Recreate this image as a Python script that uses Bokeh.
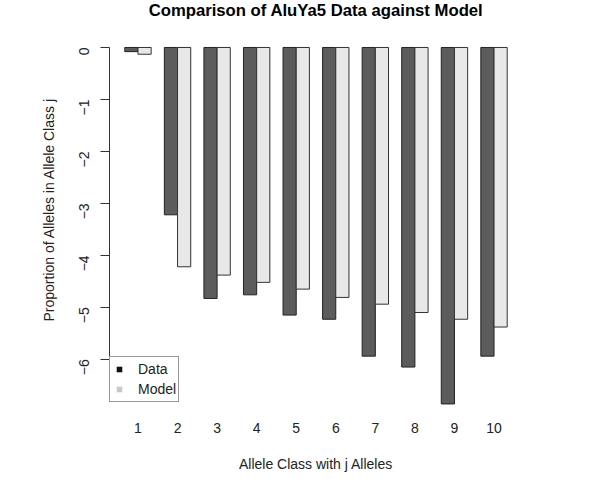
import math
import numpy as np
from bokeh.plotting import figure
from bokeh.models import Range1d, FixedTicker, Legend, LegendItem, ColumnDataSource, Label
from bokeh.embed import file_html
from bokeh.resources import INLINE

# ---- data ----
classes = ["1", "2", "3", "4", "5", "6", "7", "8", "9", "10"]
data_vals = [-0.08, -3.22, -4.83, -4.76, -5.15, -5.23, -5.94, -6.15, -6.86, -5.94]
model_vals = [-0.13, -4.22, -4.38, -4.52, -4.65, -4.81, -4.94, -5.10, -5.23, -5.38]
y_ticks = [-6, -5, -4, -3, -2, -1, 0]
y_tick_labels = ["\u22126", "\u22125", "\u22124", "\u22123", "\u22122", "\u22121", "0"]
series_names = ["Data", "Model"]
title_text = "Comparison of AluYa5 Data against Model"

# R barplot(beside=TRUE) layout: each group = 2 bars of width 1, 1 unit gap before
idx = np.arange(1, len(classes) + 1)
x_data = 3 * idx - 1.5
x_model = 3 * idx - 0.5
x_center = 3 * idx - 1.0

FONT = "Liberation Sans"

# R plot region spans y in [-7.14, 0.346] over 389 px; the (invisible) frame is
# extended 29 px upward so the title can sit inside it.
X0, X1 = -0.16, 31.16
Y0, Y1 = -7.14, 0.346
upp = (Y1 - Y0) / 389.0
Y1_ext = Y1 + 29 * upp

p = figure(width=592, height=478, output_backend="svg", toolbar_location=None,
           x_range=Range1d(X0, X1), y_range=Range1d(Y0, Y1_ext),
           min_border_left=109, min_border_right=70, min_border_top=0,
           min_border_bottom=60)

p.background_fill_color = "white"
p.border_fill_color = "white"
p.outline_line_color = None
p.xgrid.grid_line_color = None
p.ygrid.grid_line_color = None

src = ColumnDataSource(dict(xd=x_data, xm=x_model, d=data_vals, m=model_vals))
p.vbar(x="xd", top="d", bottom=0, width=1.0, source=src,
       fill_color="#5c5c5c", line_color="#222222", line_width=1)
p.vbar(x="xm", top="m", bottom=0, width=1.0, source=src,
       fill_color="#e8e8e8", line_color="#333333", line_width=1)

# title
p.add_layout(Label(x=(X0 + X1) / 2, y=Y1_ext - 9.5 * upp, text=title_text,
                   text_align="center", text_baseline="alphabetic",
                   text_font=FONT, text_font_size="16.7px",
                   text_font_style="bold", text_color="#000000"))

# x axis: labels only
xa = p.xaxis[0]
xa.ticker = FixedTicker(ticks=list(x_center))
xa.major_label_overrides = {float(c): lab for c, lab in zip(x_center, classes)}
xa.axis_line_color = None
xa.major_tick_line_color = None
xa.minor_tick_line_color = None
xa.major_tick_out = 0
xa.major_tick_in = 0
xa.major_label_standoff = 4
xa.major_label_text_font = FONT
xa.major_label_text_font_size = "14px"
xa.major_label_text_color = "#222222"
xa.axis_label = "Allele Class with j Alleles"
xa.axis_label_text_font = FONT
xa.axis_label_text_font_size = "14px"
xa.axis_label_text_font_style = "normal"
xa.axis_label_text_color = "#222222"
xa.axis_label_standoff = 20

# y axis
ya = p.yaxis[0]
ya.ticker = FixedTicker(ticks=y_ticks)
ya.major_label_overrides = {float(t): lab for t, lab in zip(y_ticks, y_tick_labels)}
ya.bounds = (min(y_ticks), max(y_ticks))
ya.axis_line_color = "#333333"
ya.major_tick_line_color = "#333333"
ya.minor_tick_line_color = None
ya.major_tick_out = 9
ya.major_tick_in = 0
ya.major_label_standoff = 16
ya.major_label_orientation = math.pi / 2
ya.major_label_text_font = FONT
ya.major_label_text_font_size = "14px"
ya.major_label_text_color = "#222222"
ya.axis_label = "Proportion of Alleles in Allele Class j"
ya.axis_label_text_font = FONT
ya.axis_label_text_font_size = "14px"
ya.axis_label_text_font_style = "normal"
ya.axis_label_text_color = "#222222"
ya.axis_label_standoff = 15

# legend swatches (not plotted: NaN position)
r_d = p.scatter(x=[float("nan")], y=[float("nan")], marker="square",
                fill_color="#111111", line_color=None)
r_m = p.scatter(x=[float("nan")], y=[float("nan")], marker="square",
                fill_color="#c8c8c8", line_color=None)
leg = Legend(items=[LegendItem(label=series_names[0], renderers=[r_d]),
                    LegendItem(label=series_names[1], renderers=[r_m])],
             location=(0, 16))
leg.padding = 2
leg.spacing = 0
leg.margin = 0
leg.glyph_width = 14
leg.glyph_height = 20
leg.label_height = 20
leg.label_standoff = 12
leg.label_text_font = FONT
leg.label_text_font_size = "14px"
leg.label_text_color = "#222222"
leg.border_line_color = "#333333"
leg.border_line_width = 1
leg.background_fill_color = "white"
leg.background_fill_alpha = 1.0
p.add_layout(leg, "center")

open("out.html", "w").write(file_html(p, INLINE))
